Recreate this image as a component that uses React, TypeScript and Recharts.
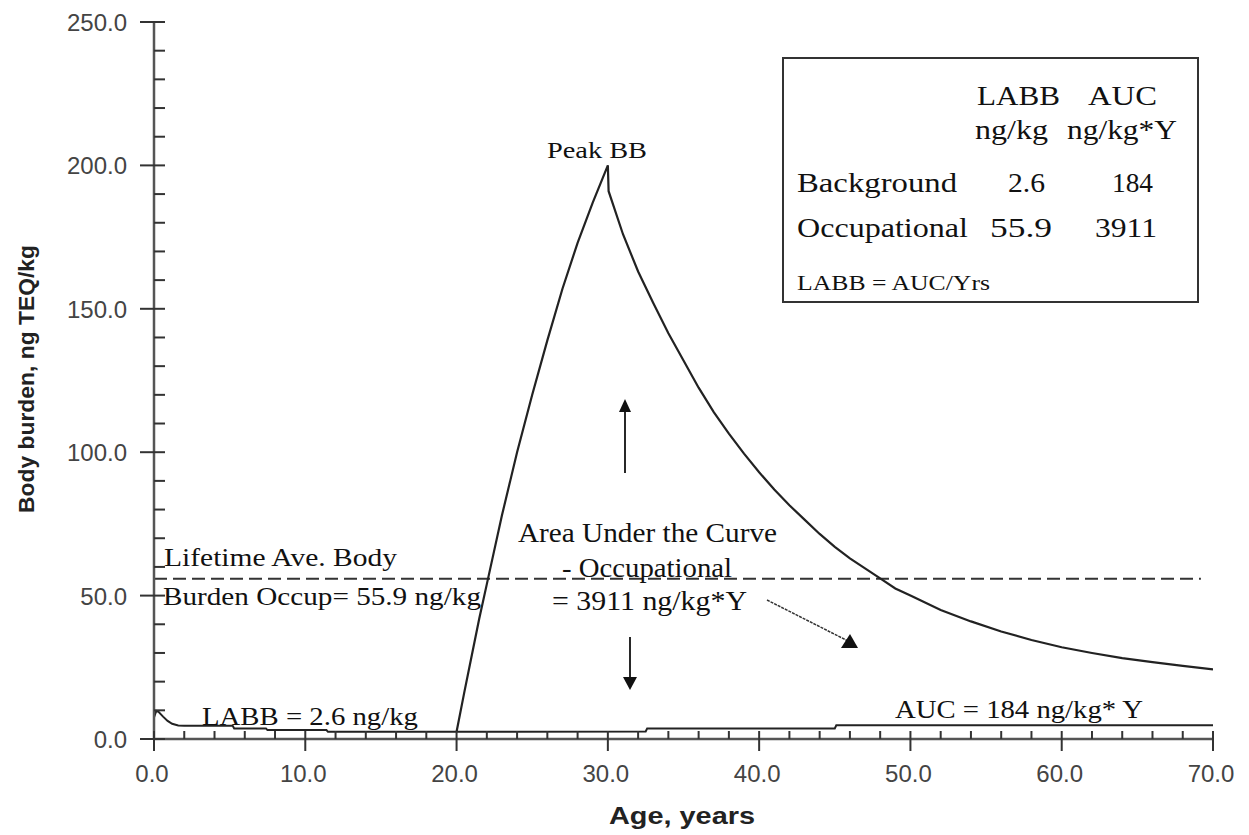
import React from "react";
import { LineChart, Line, XAxis, YAxis, ReferenceLine } from "recharts";

// background body burden (also the occupational curve before age 20)
const bgAge = [0, 0.15, 0.3, 0.6, 0.9, 1.2, 1.6, 2, 5.2, 5.3, 7.4, 7.5, 11.4, 11.5, 32.5, 32.6, 45, 45.1, 70];
const bgBurden = [7.5, 9.8, 9.5, 7.8, 6.3, 5.3, 4.7, 4.6, 4.6, 3.7, 3.7, 3.1, 3.1, 2.5, 2.6, 3.7, 3.7, 4.8, 4.8];

// occupational exposure from age 20 to 30, then elimination
const occAge = [
  20, 20.5, 21, 21.5, 22, 23, 24, 25, 26, 27, 28, 29, 30, 30.05, 31, 32, 33, 34, 35, 36, 37, 38, 39, 40,
  41, 42, 43, 44, 45, 46, 47, 48, 49, 50, 52, 54, 56, 58, 60, 62, 64, 66, 68, 70,
];
const occBurden = [
  2.5, 16, 29, 42, 54, 78, 100, 120, 139, 157, 173, 187, 200, 191, 176, 163, 152, 141.5, 132, 122.5, 114, 106.5, 99.5, 93,
  87, 81.5, 76.5, 71.5, 67, 63, 59.5, 56, 52.5, 50, 45, 41, 37.5, 34.5, 32, 30, 28.2, 26.8, 25.5, 24.3,
];

const labbOccup = 55.9;
const labbLineEnd = 69.2;

const xMajor = [0, 10, 20, 30, 40, 50, 60, 70];
const xTicks = [
  0, 2, 4, 6, 8, 10, 12, 14, 16, 18, 20, 22, 24, 26, 28, 30, 32, 34, 36, 38, 40, 42, 44, 46, 48, 50, 52, 54, 56,
  58, 60, 62, 64, 66, 68, 70,
];
const yMajor = [0, 50, 100, 150, 200, 250];
const yTicks = [
  0, 10, 20, 30, 40, 50, 60, 70, 80, 90, 100, 110, 120, 130, 140, 150, 160, 170, 180, 190, 200, 210, 220, 230, 240, 250,
];

const bgData = bgAge.map((x, i) => ({ x, y: bgBurden[i] }));
const occData = occAge.map((x, i) => ({ x, y: occBurden[i] }));

const serif = "'Liberation Serif', 'Times New Roman', serif";
const sans = "'Liberation Sans', Arial, sans-serif";

const XTick = (props: any) => {
  const { x, y, payload } = props;
  const major = xMajor.includes(payload.value);
  return (
    <g>
      <line x1={x} x2={x} y1={y - 8} y2={major ? y + 12 : y} stroke="#333" strokeWidth={2} />
      {major && (
        <text x={x - 2} y={y + 43} textAnchor="middle" fontFamily={sans} fontSize={24} fill="#444">
          {payload.value.toFixed(1)}
        </text>
      )}
    </g>
  );
};

const YTick = (props: any) => {
  const { x, y, payload } = props;
  const major = yMajor.includes(payload.value);
  return (
    <g>
      <line x1={major ? x - 14 : x} x2={x + 11} y1={y} y2={y} stroke="#333" strokeWidth={2} />
      {major && (
        <text x={x - 27} y={y + 9} textAnchor="end" fontFamily={sans} fontSize={24} fill="#444">
          {payload.value.toFixed(1)}
        </text>
      )}
    </g>
  );
};

const T = (p: { x: number; y: number; w: number; s: number; t: string }) => (
  <text
    x={p.x}
    y={p.y}
    fontFamily={serif}
    fontSize={p.s}
    fill="#111"
    textLength={p.w}
    lengthAdjust="spacingAndGlyphs"
  >
    {p.t}
  </text>
);

function Annotations() {
  return (
    <svg
      width={1249}
      height={835}
      style={{ position: "absolute", left: 0, top: 0, pointerEvents: "none" }}
    >
      {/* axis titles */}
      <text
        x={26}
        y={379}
        transform="rotate(-90 26 379)"
        textAnchor="middle"
        dominantBaseline="central"
        fontFamily={sans}
        fontWeight="bold"
        fontSize={22}
        fill="#222"
        textLength={268}
        lengthAdjust="spacingAndGlyphs"
      >
        Body burden, ng TEQ/kg
      </text>
      <text
        x={682}
        y={824}
        textAnchor="middle"
        fontFamily={sans}
        fontWeight="bold"
        fontSize={23}
        fill="#222"
        textLength={146}
        lengthAdjust="spacingAndGlyphs"
      >
        Age, years
      </text>

      {/* legend box */}
      <rect x={783} y={58} width={415} height={244} fill="none" stroke="#333" strokeWidth={2} />
      <T x={977} y={105} w={83} s={28} t="LABB" />
      <T x={1088} y={105} w={69} s={28} t="AUC" />
      <T x={975} y={139} w={73} s={27} t="ng/kg" />
      <T x={1067} y={139} w={110} s={27} t="ng/kg*Y" />
      <T x={797} y={192} w={160} s={28} t="Background" />
      <T x={1008} y={192} w={37} s={28} t="2.6" />
      <T x={1112} y={192} w={41} s={28} t="184" />
      <T x={797} y={237} w={171} s={28} t="Occupational" />
      <T x={990} y={237} w={62} s={28} t="55.9" />
      <T x={1095} y={237} w={62} s={28} t="3911" />
      <T x={797} y={290} w={193} s={22} t="LABB = AUC/Yrs" />

      {/* curve annotations */}
      <T x={547} y={158} w={100} s={23} t="Peak BB" />
      <T x={164} y={566} w={233} s={26} t="Lifetime Ave. Body" />
      <T x={163} y={605} w={318} s={26} t="Burden Occup= 55.9 ng/kg" />
      <T x={202} y={725} w={216} s={26} t="LABB = 2.6 ng/kg" />
      <T x={895} y={718} w={248} s={26} t="AUC = 184 ng/kg* Y" />
      <T x={518} y={542} w={259} s={27} t="Area Under the Curve" />
      <T x={562} y={577} w={170} s={27} t="- Occupational" />
      <T x={552} y={610} w={195} s={27} t="= 3911 ng/kg*Y" />

      {/* arrows */}
      <line x1={625} y1={473} x2={625} y2={410} stroke="#111" strokeWidth={1.8} />
      <polygon points="625,399 619,412 631,412" fill="#111" />
      <line x1={630} y1={637} x2={630} y2={678} stroke="#111" strokeWidth={1.8} />
      <polygon points="630,690 623,677 637,677" fill="#111" />
      <line x1={767} y1={600} x2={848} y2={641} stroke="#333" strokeWidth={1.5} strokeDasharray="3 1" />
      <polygon points="841,648 858,648 850,634" fill="#111" />
    </svg>
  );
}

export default function App() {
  return (
    <div style={{ position: "absolute", left: 0, top: 0, width: 1249, height: 835, background: "#fff" }}>
      <LineChart width={1249} height={835} margin={{ top: 22, right: 36, bottom: 36, left: 94 }}>
        <XAxis
          type="number"
          dataKey="x"
          domain={[0, 70]}
          ticks={xTicks}
          interval={0}
          tick={<XTick />}
          tickLine={false}
          tickSize={0}
          tickMargin={0}
          height={60}
          axisLine={{ stroke: "#555", strokeWidth: 2.5 }}
          allowDataOverflow
        />
        <YAxis
          type="number"
          domain={[0, 250]}
          ticks={yTicks}
          interval={0}
          tick={<YTick />}
          tickLine={false}
          tickSize={0}
          tickMargin={0}
          width={60}
          axisLine={{ stroke: "#555", strokeWidth: 2.5 }}
          allowDataOverflow
        />
        <ReferenceLine
          segment={[
            { x: 0, y: labbOccup },
            { x: labbLineEnd, y: labbOccup },
          ]}
          stroke="#333"
          strokeWidth={2}
          strokeDasharray="13 6"
        />
        <Line
          data={bgData}
          dataKey="y"
          type="linear"
          stroke="#222"
          strokeWidth={2}
          dot={false}
          activeDot={false}
          isAnimationActive={false}
        />
        <Line
          data={occData}
          dataKey="y"
          type="linear"
          stroke="#222"
          strokeWidth={2.2}
          dot={false}
          activeDot={false}
          isAnimationActive={false}
        />
      </LineChart>
      <Annotations />
    </div>
  );
}
